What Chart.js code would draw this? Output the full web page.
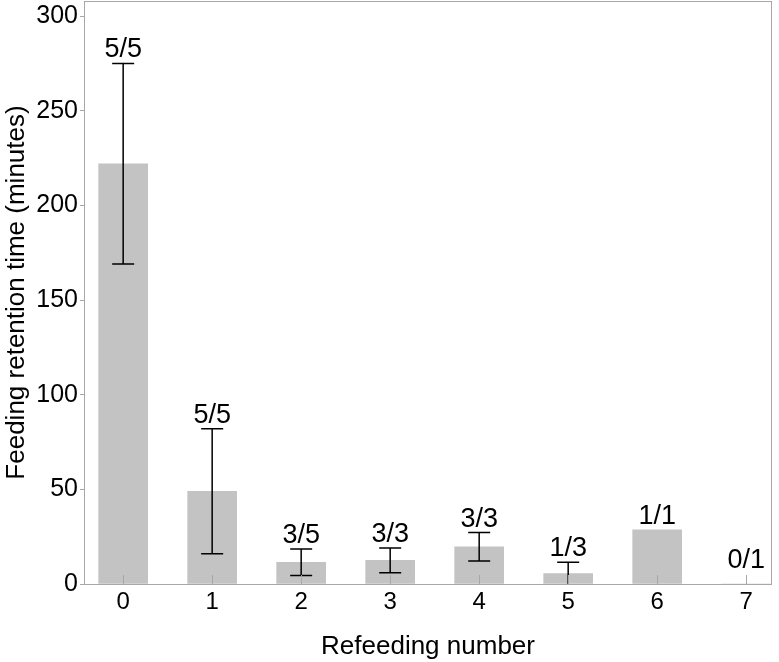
<!DOCTYPE html>
<html>
<head>
<meta charset="utf-8">
<script src="https://cdn.jsdelivr.net/npm/chart.js@4/dist/chart.umd.min.js"></script>
<style>
  body { margin: 0; background: #fff; }
  #wrap { width: 779px; height: 662px; }
</style>
</head>
<body>
<div id="wrap"><canvas id="chart"></canvas></div>
<script>
// datos del grafico
const refeedings = [0, 1, 2, 3, 4, 5, 6, 7];
const retentionMean = [222, 49, 11.5, 12.5, 19.7, 5.5, 28.6, 0];
const retentionErr = [53, 33, 7, 6.5, 7.5, 6, null, null];
const countLabels = ['5/5', '5/5', '3/5', '3/3', '3/3', '1/3', '1/1', '0/1'];
const yTicks = [0, 50, 100, 150, 200, 250, 300];

const FONT = '"Liberation Sans", Arial, Helvetica, sans-serif';
const FRAME = '#a8a8a8';

// barras de error, etiquetas y marco
const extrasPlugin = {
    id: 'extras',
    afterDatasetsDraw(chart) {
        const ctx = chart.ctx;
        const x = chart.scales.x;
        const y = chart.scales.y;
        const area = chart.chartArea;

        ctx.save();
        ctx.beginPath();
        ctx.rect(area.left, area.top, area.right - area.left, area.bottom - area.top);
        ctx.clip();
        ctx.strokeStyle = '#000';
        ctx.lineWidth = 1.5;
        refeedings.forEach((r, i) => {
            const e = retentionErr[i];
            if (e == null) return;
            const px = x.getPixelForValue(r);
            const hi = y.getPixelForValue(retentionMean[i] + e);
            const lo = y.getPixelForValue(retentionMean[i] - e);
            ctx.beginPath();
            ctx.moveTo(px, hi); ctx.lineTo(px, lo);
            ctx.moveTo(px - 11, hi); ctx.lineTo(px + 11, hi);
            ctx.moveTo(px - 11, lo); ctx.lineTo(px + 11, lo);
            ctx.stroke();
        });
        ctx.restore();

        // ticks del eje x hacia dentro
        ctx.save();
        ctx.strokeStyle = FRAME;
        ctx.lineWidth = 1;
        refeedings.forEach(r => {
            const px = Math.round(x.getPixelForValue(r)) + 0.5;
            ctx.beginPath();
            ctx.moveTo(px, area.bottom);
            ctx.lineTo(px, area.bottom - 9);
            ctx.stroke();
        });
        // marco
        ctx.strokeRect(area.left + 0.5, area.top + 0.5, area.right - area.left - 1, area.bottom - area.top);
        ctx.restore();

        // etiquetas n/N
        ctx.save();
        ctx.fillStyle = '#000';
        ctx.font = '27px ' + FONT;
        ctx.textAlign = 'center';
        ctx.textBaseline = 'alphabetic';
        refeedings.forEach((r, i) => {
            const top = Math.max(retentionMean[i] + (retentionErr[i] || 0), 5.5);
            ctx.fillText(countLabels[i], x.getPixelForValue(r), y.getPixelForValue(top) - 6);
        });
        ctx.restore();
    }
};

new Chart(document.getElementById('chart'), {
    type: 'bar',
    data: {
        datasets: [{
            data: refeedings.map((r, i) => ({ x: r, y: retentionMean[i] })),
            backgroundColor: '#c3c3c3',
            borderWidth: 0,
            barThickness: 49
        }]
    },
    options: {
        responsive: true,
        maintainAspectRatio: false,
        animation: false,
        layout: { padding: { top: 1, right: 7, left: 0, bottom: 0 } },
        plugins: { legend: { display: false }, tooltip: { enabled: false } },
        scales: {
            x: {
                type: 'linear',
                min: -0.44,
                max: 7.29,
                offset: false,
                afterBuildTicks: (s) => { s.ticks = refeedings.map(v => ({ value: v })); },
                afterFit: (s) => { s.height = 78; s.paddingLeft = 0; s.paddingRight = 0; },
                grid: { display: false, drawTicks: false },
                border: { display: false },
                ticks: { color: '#000', font: { family: FONT, size: 24 }, padding: 4, maxRotation: 0 },
                title: { display: true, text: 'Refeeding number', color: '#000', font: { family: FONT, size: 26 }, padding: { top: 0, bottom: 0 } }
            },
            y: {
                min: 0,
                max: 308,
                afterBuildTicks: (s) => { s.ticks = yTicks.map(v => ({ value: v })); },
                afterFit: (s) => { s.width = 84; s.paddingTop = 0; s.paddingBottom = 0; },
                grid: { drawOnChartArea: false, drawTicks: true, tickLength: 4, color: FRAME },
                border: { display: false },
                ticks: { color: '#000', font: { family: FONT, size: 25 }, padding: 2 },
                title: { display: true, text: 'Feeding retention time (minutes)', color: '#000', font: { family: FONT, size: 26 }, padding: { top: 1, bottom: 0 } }
            }
        }
    },
    plugins: [extrasPlugin]
});
</script>
</body>
</html>
